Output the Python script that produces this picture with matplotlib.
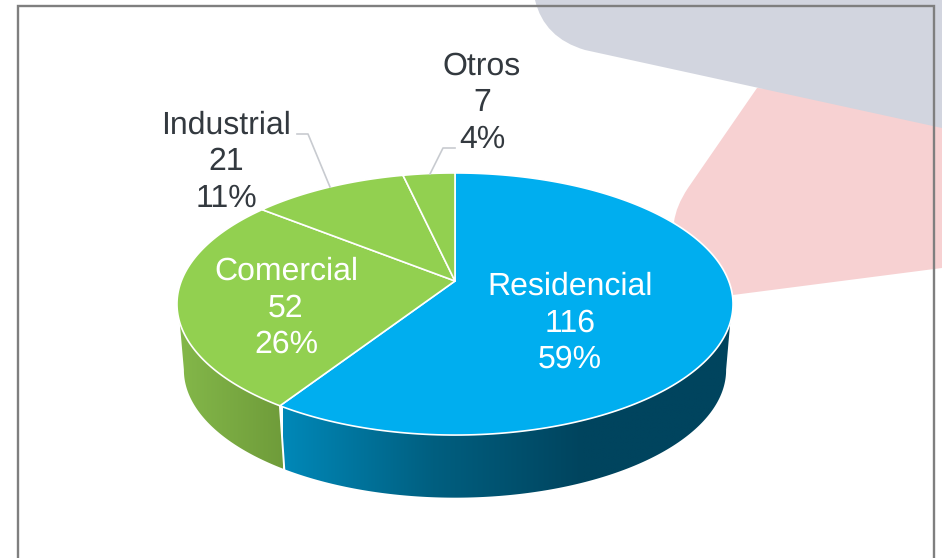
import numpy as np
import matplotlib
matplotlib.use('Agg')
import matplotlib.pyplot as plt
from matplotlib.patches import PathPatch, Polygon
from matplotlib.path import Path
from matplotlib.colors import LinearSegmentedColormap

# chart values
categories = ['Residencial', 'Comercial', 'Industrial', 'Otros']
values = [116, 52, 21, 7]
percents = [59, 26, 11, 4]

top_colors = ['#00AEEF', '#92D050', '#92D050', '#92D050']
text_colors = ['white', 'white', '#33393F', '#33393F']
label_pos = [(570, 323), (286, 308), (226, 162), (482, 103)]

plt.rcParams['font.family'] = ['Liberation Sans', 'DejaVu Sans']
plt.rcParams['text.hinting'] = 'no_hinting'

fig = plt.figure(figsize=(9.42, 5.58), dpi=100)
ax = fig.add_axes([0, 0, 1, 1])


# perspective view of the pie disc, angle in degrees
def rim(theta, radius=273.7, height=127.0, apex=281.0, cx=455.0, k=0.1756):
    t = np.radians(theta)
    w = 1 + k * np.sin(t)
    return np.column_stack((cx + radius * np.cos(t) / w, apex - height * np.sin(t) / w))


def lower_rim(theta):
    return rim(theta, radius=266.9, height=123.8, apex=347.5)


def arc(a, b):
    return np.linspace(a, b, 200)


# background shapes
pink = Path([(757, 88), (688, 188), (676, 206), (674, 222), (733, 295), (942, 268), (942, 100), (757, 88)],
            [Path.MOVETO, Path.LINETO, Path.CURVE3, Path.CURVE3, Path.LINETO, Path.LINETO, Path.LINETO, Path.CLOSEPOLY])
ax.add_patch(PathPatch(pink, fc='#F7D1D2', ec='none', zorder=1))
gray = Path([(535, 0), (544, 38), (585, 50), (942, 128), (942, 0), (535, 0)],
            [Path.MOVETO, Path.CURVE3, Path.CURVE3, Path.LINETO, Path.LINETO, Path.CLOSEPOLY])
ax.add_patch(PathPatch(gray, fc='#D2D5DF', ec='none', zorder=2))

# slice angles, clockwise from the top
fractions = np.cumsum([0] + values) / sum(values)
angles = 90 - 360 * fractions

# side walls: top rim angles, lower rim angles, colours, gradient span
seam = angles[1]
wall_sets = [
    ((seam, -18), (-10, seam), ['#0088B8', '#005F80', '#00445E', '#00445E'], (283, 733)),
    ((-162, seam), (seam, -170), ['#84B84A', '#6F9C3A'], (177, 283)),
]
for (a, b), (c, d), cols, (x0, x1) in wall_sets:
    pts = np.vstack((rim(arc(a, b)), lower_rim(arc(c, d))))
    poly = Polygon(pts, closed=True, fc='none', ec='none', zorder=3)
    ax.add_patch(poly)
    cmap = LinearSegmentedColormap.from_list('wall', cols)
    im = ax.imshow(np.linspace(0, 1, 256).reshape(1, -1), cmap=cmap, extent=(x0, x1, 520, 280),
                   aspect='auto', zorder=3, interpolation='bilinear')
    im.set_clip_path(poly)

# seam between the walls
ax.plot(*np.vstack((rim(np.array([seam])), lower_rim(np.array([seam])))).T, color='white', lw=1.4, zorder=4)

# top of the disc
apex = (455.0, 281.0)
for i in range(len(values)):
    pts = np.vstack(([apex], rim(arc(angles[i], angles[i + 1]))))
    ax.add_patch(Polygon(pts, closed=True, fc=top_colors[i], ec='white', lw=1.2, joinstyle='round', zorder=5))

# leader lines
ax.plot([297, 308, 330], [134, 134, 187], color='#C8CBD0', lw=1.2, zorder=6)
ax.plot([455, 443, 430], [148, 148, 174], color='#C8CBD0', lw=1.2, zorder=6)

for name, val, pct, col, (x, y) in zip(categories, values, percents, text_colors, label_pos):
    ax.text(x, y, f'{name}\n{val}\n{pct}%', color=col, fontsize=23, ha='center', va='center',
            linespacing=1.3, zorder=7)

# slide frame
ax.plot([18, 18, 934, 934], [558, 6, 6, 558], color='#7F7F7F', lw=1.7, solid_joinstyle='miter', zorder=8)

ax.set_xlim(0, 942)
ax.set_ylim(558, 0)
ax.axis('off')

fig.savefig('out.png', dpi=100, facecolor='white')
